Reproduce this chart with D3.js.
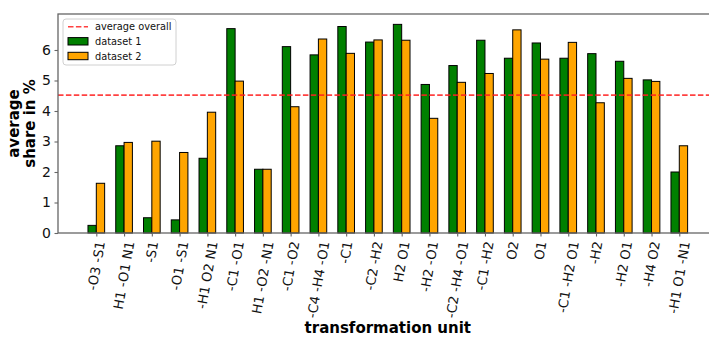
<!DOCTYPE html>
<html>
<head>
<meta charset="utf-8">
<script src="https://cdn.jsdelivr.net/npm/d3@7"></script>
<style>
  html, body { margin: 0; padding: 0; background: #fff; }
  svg { display: block; font-family: "DejaVu Sans", sans-serif; }
</style>
</head>
<body>
<svg id="chart" width="709" height="338"></svg>
<script>
// Transformation units along the x axis
const categories = [
  "-O3 -S1", "H1 -O1 N1", "-S1", "-O1 -S1", "-H1 O2 N1", "-C1 -O1",
  "H1 -O2 -N1", "-C1 -O2", "-C4 -H4 -O1", "-C1", "-C2 -H2", "H2 O1",
  "-H2 -O1", "-C2 -H4 -O1", "-C1 -H2", "O2", "O1", "-C1 -H2 O1",
  "-H2", "-H2 O1", "-H4 O2", "-H1 O1 -N1"
];
// Average share in % per unit
const dataset1 = [0.25, 2.86, 0.50, 0.43, 2.45, 6.70, 2.09, 6.11, 5.84, 6.77, 6.26,
                  6.84, 4.87, 5.49, 6.32, 5.73, 6.23, 5.73, 5.88, 5.63, 5.02, 2.00];
const dataset2 = [1.63, 2.97, 3.01, 2.64, 3.96, 4.98, 2.09, 4.14, 6.36, 5.89, 6.33,
                  6.32, 3.76, 4.94, 5.23, 6.66, 5.70, 6.25, 4.27, 5.07, 4.97, 2.86];
const averageOverall = 4.52;
const yTicks = [0, 1, 2, 3, 4, 5, 6];
const seriesNames = ["dataset 1", "dataset 2"];
const seriesColors = ["green", "orange"];

const svg = d3.select("#chart");
const plot = { left: 58, right: 717.6, top: 14, bottom: 233 };
const barW = 0.3;
const n = categories.length;
const pad = (n - 1 + 2 * barW) * 0.05;

const x = d3.scaleLinear()
  .domain([-barW - pad, n - 1 + barW + pad])
  .range([plot.left, plot.right]);
const y = d3.scaleLinear()
  .domain([0, 7.18])
  .range([plot.bottom, plot.top]);

const axisColor = "#666";

// Bars
const series = [dataset1, dataset2];
series.forEach((vals, s) => {
  svg.append("g").selectAll("rect")
    .data(vals)
    .join("rect")
    .attr("x", (d, i) => x(i + (s === 0 ? -barW : 0)))
    .attr("y", d => y(d))
    .attr("width", (d, i) => x(i + barW) - x(i))
    .attr("height", d => y(0) - y(d))
    .attr("fill", seriesColors[s])
    .attr("stroke", "#000")
    .attr("stroke-width", 1);
});

// Overall average reference line
svg.append("line")
  .attr("x1", plot.left).attr("x2", plot.right)
  .attr("y1", y(averageOverall)).attr("y2", y(averageOverall))
  .attr("stroke", "#ff2020").attr("stroke-opacity", 0.85)
  .attr("stroke-width", 1.6)
  .attr("stroke-dasharray", "5.5,2.4");

// Spines
svg.append("rect")
  .attr("x", plot.left).attr("y", plot.top)
  .attr("width", plot.right - plot.left).attr("height", plot.bottom - plot.top)
  .attr("fill", "none").attr("stroke", axisColor).attr("stroke-width", 1.3);

// Y axis
const yAxis = d3.axisLeft(y).tickValues(yTicks).tickFormat(d3.format("d"))
  .tickSize(3.5).tickPadding(3.5);
const gy = svg.append("g").attr("transform", `translate(${plot.left},0)`).call(yAxis);
gy.select(".domain").remove();
gy.selectAll(".tick line").attr("stroke", axisColor).attr("stroke-width", 1.1);
gy.selectAll(".tick text").attr("font-size", 14).attr("fill", "#111")
  .attr("font-family", "DejaVu Sans");

// X axis ticks
const xAxis = d3.axisBottom(x).tickValues(d3.range(n)).tickFormat("")
  .tickSize(3.5);
const gx = svg.append("g").attr("transform", `translate(0,${plot.bottom})`).call(xAxis);
gx.select(".domain").remove();
gx.selectAll(".tick line").attr("stroke", axisColor).attr("stroke-width", 1.1);

// Rotated category labels, box centred under each tick and top-aligned
const labelTop = plot.bottom + 3.5 + 3.5;
const rot = 80 * Math.PI / 180;
const fs = 13.2;
categories.forEach((c, i) => {
  const g = svg.append("g");
  const t = g.append("text")
    .attr("text-anchor", "middle")
    .attr("dominant-baseline", "central")
    .attr("font-size", fs)
    .attr("fill", "#111")
    .text(c);
  const w = t.node().getComputedTextLength();
  const h = fs * 1.17;
  const boxH = w * Math.sin(rot) + h * Math.cos(rot);
  t.attr("transform", "rotate(-80)");
  g.attr("transform", `translate(${x(i)},${labelTop + boxH / 2})`);
});

// Axis titles
svg.append("text")
  .attr("x", (plot.left + plot.right) / 2).attr("y", 333)
  .attr("text-anchor", "middle").attr("font-weight", "bold").attr("font-size", 15)
  .attr("fill", "#000")
  .text("transformation unit");

const yt = svg.append("text")
  .attr("transform", `translate(22,${(plot.top + plot.bottom) / 2}) rotate(-90)`)
  .attr("text-anchor", "middle").attr("font-weight", "bold").attr("font-size", 15)
  .attr("fill", "#000");
yt.append("tspan").attr("x", 0).attr("dy", "-0.2em").text("average");
yt.append("tspan").attr("x", 0).attr("dy", "1.05em").text("share in %");

// Legend
const lg = svg.append("g").attr("transform", "translate(63,19)");
lg.append("rect").attr("width", 113).attr("height", 46).attr("rx", 3)
  .attr("fill", "#fff").attr("fill-opacity", 0.8)
  .attr("stroke", "#d0d0d0").attr("stroke-width", 1);
const rowY = [7.7, 22.3, 37];
lg.append("line").attr("x1", 5).attr("x2", 25).attr("y1", rowY[0]).attr("y2", rowY[0])
  .attr("stroke", "#ff2020").attr("stroke-opacity", 0.85).attr("stroke-width", 1.6)
  .attr("stroke-dasharray", "5.5,2.4");
lg.append("text").attr("x", 32).attr("y", rowY[0]).attr("dominant-baseline", "central")
  .attr("font-size", 9.8).attr("fill", "#111").text("average overall");
seriesNames.forEach((name, s) => {
  lg.append("rect").attr("x", 5).attr("y", rowY[s + 1] - 3.7).attr("width", 20).attr("height", 7.4)
    .attr("fill", seriesColors[s]).attr("stroke", "#000").attr("stroke-width", 1);
  lg.append("text").attr("x", 32).attr("y", rowY[s + 1]).attr("dominant-baseline", "central")
    .attr("font-size", 9.8).attr("fill", "#111").text(name);
});
</script>
</body>
</html>
